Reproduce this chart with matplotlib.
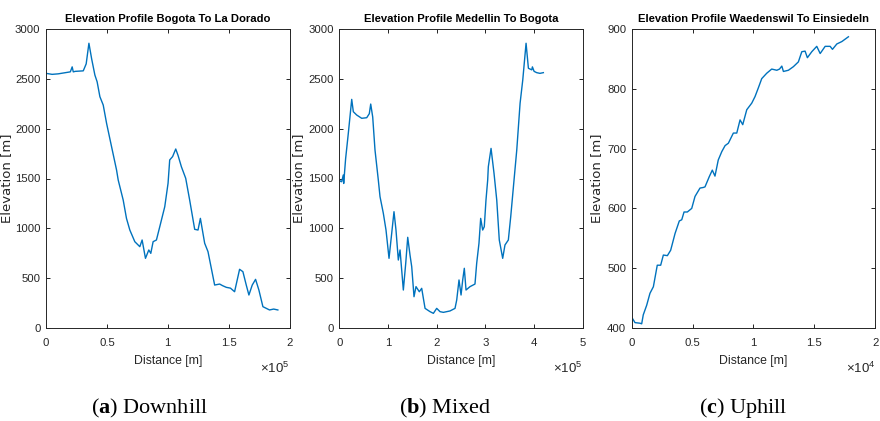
import numpy as np
import matplotlib
matplotlib.use("Agg")
import matplotlib.pyplot as plt
from matplotlib.ticker import FuncFormatter

# Bogota -> La Dorado (distance m, elevation m)
dist_a = [0, 5000, 10000, 15000, 20000, 21500, 22400, 24000, 30600, 33000, 35250, 37500,
          40150, 42000, 44260, 47000, 49750, 53850, 57950, 59300, 63400, 66100, 68850,
          72950, 77050, 78950, 81700, 84430, 86070, 87980, 90700, 93440, 97540, 100250,
          101600, 104000, 106560, 108500, 111200, 114750, 118000, 122130, 124860, 126800,
          130330, 133060, 138520, 142620, 145000, 148100, 151500, 154900, 159000, 161730,
          164480, 166660, 169400, 172130, 174860, 178150, 183600, 187000, 190430]
elev_a = [2555, 2545, 2550, 2560, 2570, 2620, 2570, 2575, 2580, 2650, 2857, 2700,
          2538, 2470, 2321, 2237, 2054, 1819, 1585, 1485, 1284, 1100, 983,
          866, 816, 883, 699, 783, 749, 866, 883, 1016, 1217, 1452,
          1686, 1720, 1796, 1730, 1618, 1502, 1284, 990, 983, 1100,
          850, 766, 431, 441, 425, 408, 400, 364, 589, 565,
          431, 331, 431, 488, 381, 214, 181, 190, 181]

# Medellin -> Bogota
dist_b = [0, 3000, 4900, 8200, 9000, 13000, 18500, 25500, 28800, 35700, 46000, 56300,
          61600, 64500, 68600, 73300, 80100, 83600, 90400, 95900, 102100, 107600, 112300,
          116400, 121200, 124700, 131500, 136400, 140500, 145200, 148700, 153400, 157500,
          164300, 169200, 172600, 176100, 186300, 193200, 200000, 206800, 213700, 227300,
          237600, 241100, 245800, 250000, 253400, 256700, 260200, 268400, 278600, 282100,
          286800, 290300, 294400, 297700, 301200, 304700, 306000, 311600, 317700, 323300,
          328500, 335500, 340200, 347100, 352000, 358800, 364400, 371200, 376700, 383500,
          388300, 395200, 396500, 400000, 405300, 412000, 419000]
elev_b = [1485, 1470, 1468, 1535, 1450, 1700, 1953, 2294, 2170, 2137, 2104, 2110,
          2150, 2247, 2117, 1786, 1485, 1318, 1151, 983, 699, 950, 1167,
          983, 682, 783, 381, 649, 910, 732, 615, 314, 415,
          364, 398, 298, 197, 164, 147, 197, 164, 157, 171,
          197, 281, 482, 331, 482, 599, 381, 415, 441, 649,
          850, 1100, 983, 1016, 1284, 1485, 1618, 1802, 1552, 1284,
          883, 699, 833, 883, 1117, 1485, 1786, 2254, 2488, 2857,
          2606, 2590, 2620, 2575, 2562, 2555, 2562]

# Waedenswil -> Einsiedeln
dist_c = [0, 270, 680, 820, 950, 1230, 1500, 1780, 2100, 2380, 2600, 2930, 3200, 3560,
          3910, 4110, 4300, 4570, 4930, 5200, 5610, 5880, 6020, 6370, 6620, 6840, 7110,
          7400, 7670, 7940, 8350, 8630, 8900, 9120, 9450, 9860, 10130, 10410, 10680,
          11090, 11500, 11920, 12140, 12330, 12460, 12870, 13280, 13690, 13970, 14240,
          14430, 14790, 15200, 15480, 15890, 16300, 16490, 16850, 17260, 17800]
elev_c = [418, 409, 408, 407, 422, 438, 458, 469, 505, 505, 522, 521, 530, 558,
          579, 581, 594, 594, 600, 620, 634, 635, 636, 653, 664, 654, 681,
          695, 705, 709, 726, 726, 748, 740, 765, 776, 787, 802, 817,
          826, 833, 831, 833, 838, 829, 831, 837, 845, 862, 863,
          852, 862, 871, 859, 871, 871, 866, 875, 879, 887]

titles = ["Elevation Profile Bogota To La Dorado",
          "Elevation Profile Medellin To Bogota",
          "Elevation Profile Waedenswil To Einsiedeln"]
captions = [("a", "Downhill"), ("b", "Mixed"), ("c", "Uphill")]
xlims = [(0, 2e5), (0, 5e5), (0, 2e4)]
ylims = [(0, 3000), (0, 3000), (400, 900)]
xticks = [[0, 0.5e5, 1e5, 1.5e5, 2e5], [0, 1e5, 2e5, 3e5, 4e5, 5e5], [0, 0.5e4, 1e4, 1.5e4, 2e4]]
yticks = [[0, 500, 1000, 1500, 2000, 2500, 3000], [0, 500, 1000, 1500, 2000, 2500, 3000],
          [400, 500, 600, 700, 800, 900]]
exps = [5, 5, 4]

# mathtext: sans for the x10^n multipliers, bold serif for the caption letters
plt.rcParams["mathtext.fontset"] = "custom"
plt.rcParams["mathtext.rm"] = "Liberation Sans"
plt.rcParams["mathtext.it"] = "Liberation Sans"
plt.rcParams["mathtext.bf"] = "Liberation Serif:bold"

sans = ["Liberation Sans", "DejaVu Sans"]
gray = "#262626"
line_color = "#0072BD"

fig = plt.figure(figsize=(8.8, 4.21), dpi=100)
lefts = [46 / 880, 339.3 / 880, 631.7 / 880]
width = 243.5 / 880
bottom = (421 - 328) / 421
height = 299 / 421
ylabel_off = [33, 34, 29]
caption_x = [150 / 880, 445 / 880, 743 / 880]

data = [(dist_a, elev_a), (dist_b, elev_b), (dist_c, elev_c)]
for i, (d, e) in enumerate(data):
    ax = fig.add_axes([lefts[i], bottom, width, height])
    ax.plot(d, e, color=line_color, lw=1.0)
    ax.set_xlim(*xlims[i])
    ax.set_ylim(*ylims[i])
    ax.set_xticks(xticks[i])
    ax.set_yticks(yticks[i])
    scale = 10 ** exps[i]
    ax.xaxis.set_major_formatter(FuncFormatter(lambda v, p, s=scale: f"{v / s:g}"))
    ax.tick_params(direction="in", top=True, right=True, length=3, width=0.6,
                   labelsize=8.2, labelcolor=gray)
    ax.tick_params(axis="x", pad=7)
    ax.tick_params(axis="y", pad=4)
    for lab in ax.get_xticklabels() + ax.get_yticklabels():
        lab.set_family(sans)
    for sp in ax.spines.values():
        sp.set_linewidth(0.7)
        sp.set_color(gray)
    ax.set_title(titles[i], fontsize=8.1, fontweight="bold", family=sans, pad=5)
    ax.set_xlabel("Distance [m]", fontsize=8.8, family=sans, color=gray, labelpad=5)
    ax.set_ylabel("Elevation [m]", fontsize=9.5, family="DejaVu Sans", color=gray)
    ax.yaxis.set_label_coords(-ylabel_off[i] / 243.5, 0.5)
    ax.text(1.0, -0.11, r"$\times 10^{%d}$" % exps[i], transform=ax.transAxes,
            ha="right", va="top", fontsize=9.5, color=gray)
    fig.text(caption_x[i], 13 / 421,
             r"($\mathbf{%s}$) %s" % captions[i],
             ha="center", va="center", fontsize=16, family="Liberation Serif")

fig.savefig("out.png", dpi=100)
